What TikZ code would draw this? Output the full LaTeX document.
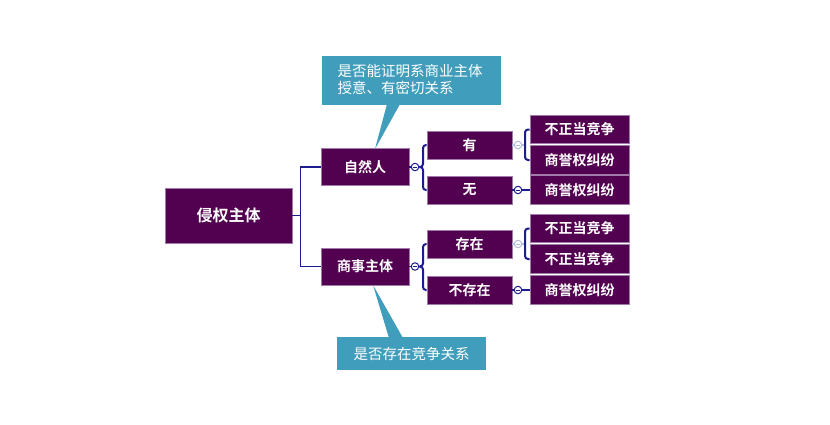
\documentclass[tikz,border=0pt]{standalone}
\usepackage{fontspec}
\newfontfamily\cjk{Noto Sans CJK SC}
\newfontfamily\cjkb{Noto Sans CJK SC Bold}
\usetikzlibrary{calc}
\definecolor{nodepurple}{HTML}{520050}
\definecolor{nodeborder}{HTML}{A07AA8}
\definecolor{linkblue}{HTML}{1C1C8C}
\definecolor{fadeblue}{HTML}{B4BCDC}
\definecolor{callteal}{HTML}{409DBB}
\tikzset{
  topicbox/.style={fill=nodepurple,draw=nodeborder,line width=0.6pt,inner sep=0pt,text=white,font=\cjkb\fontsize{14}{16}\selectfont},
  rootbox/.style={topicbox,minimum width=127pt,minimum height=55pt,font=\cjkb\fontsize{16}{19}\selectfont},
  midbox/.style={topicbox,minimum width=88pt,minimum height=37pt},
  subbox/.style={topicbox,minimum width=85pt,minimum height=28pt},
  leafbox/.style={topicbox,minimum width=99pt,minimum height=28.5pt},
  callbox/.style={fill=callteal,draw=none,inner sep=0pt,text=white,font=\cjk\fontsize{14.5}{17}\selectfont},
  link/.style={draw=linkblue,line width=1.4pt},
  blink/.style={draw=linkblue,line width=2pt,rounded corners=3pt},
  fblink/.style={draw=fadeblue,line width=1.2pt},
  knob/.style={circle,draw=linkblue,fill=white,line width=1pt,minimum size=7.5pt,inner sep=0pt,
    path picture={\draw[linkblue,line width=0.7pt] ($(path picture bounding box.center)+(-1.8pt,0)$) -- ($(path picture bounding box.center)+(1.8pt,0)$);}},
  fknob/.style={knob,draw=fadeblue,
    path picture={\draw[fadeblue,line width=0.7pt] ($(path picture bounding box.center)+(-1.8pt,0)$) -- ($(path picture bounding box.center)+(1.8pt,0)$);}},
}
\begin{document}
\begin{tikzpicture}[x=1pt,y=-1pt]
\useasboundingbox[fill=white] (0,0) rectangle (830,424);

% callouts (behind nodes)
\node[callbox,minimum width=179pt,minimum height=49pt] (call1) at (411.5,80.5) {};
\node[callbox,anchor=north west,align=left] (call1t) at (337.5,64) {是否能证明系商业主体\\授意、有密切关系};
\coordinate (tip1) at (375,149);
\fill[callteal] (387,104) -- (tip1) -- (400,104) -- cycle;

\node[callbox,minimum width=149pt,minimum height=33pt] (call2) at (411.5,353.5) {是否存在竞争关系};
\coordinate (tip2) at (373,285);
\fill[callteal] (389,338) -- (tip2) -- (403,338) -- cycle;

% nodes
\node[rootbox] (root) at (228.5,215.5) {侵权主体};
\node[midbox] (zr) at (365,167) {自然人};
\node[midbox] (ss) at (365,266.5) {商事主体};
\node[subbox] (you) at (469.5,145) {有};
\node[subbox] (wu) at (469.5,190) {无};
\node[subbox] (cz) at (469.5,244) {存在};
\node[subbox] (bcz) at (469.5,290) {不存在};
\node[leafbox] (l1) at (579.5,129.5) {不正当竞争};
\node[leafbox] (l2) at (579.5,160) {商誉权纠纷};
\node[leafbox] (l3) at (579.5,190) {商誉权纠纷};
\node[leafbox] (l4) at (579.5,228.5) {不正当竞争};
\node[leafbox] (l5) at (579.5,259) {不正当竞争};
\node[leafbox] (l6) at (579.5,290) {商誉权纠纷};

% root connectors
\draw[link] (root.east) -- ++(8,0) |- (zr.west);
\draw[link] (root.east) -- ++(8,0) |- (ss.west);

% knobs
\node[knob] (k1) at (415,167) {};
\node[knob] (k2) at (415,266.5) {};
\node[fknob] (k3) at (518,145) {};
\node[knob] (k4) at (518,190) {};
\node[fknob] (k5) at (518,244) {};
\node[knob] (k6) at (518,290) {};

\draw[link] (zr.east) -- (k1.west);
\draw[link] (ss.east) -- (k2.west);
\draw[fblink] (you.east) -- (k3.west);
\draw[fblink] (cz.east) -- (k5.west);
\draw[link] (wu.east) -- (k4.west);
\draw[link] (bcz.east) -- (k6.west);

% brackets
\draw[blink] (k1.east) -- (423,167) |- (you.west);
\draw[blink] (k1.east) -- (423,167) |- (wu.west);
\draw[blink] (k2.east) -- (423,266.5) |- (cz.west);
\draw[blink] (k2.east) -- (423,266.5) |- (bcz.west);
\draw[fblink] (k3.east) -- (525,145);
\draw[blink] (525,145) |- (l1.west);
\draw[blink] (525,145) |- (l2.west);
\draw[fblink] (k5.east) -- (525,244);
\draw[blink] (525,244) |- (l4.west);
\draw[blink] (525,244) |- (l5.west);
\draw[link,line width=2pt] (k4.east) -- (l3.west);
\draw[link,line width=2pt] (k6.east) -- (l6.west);
\end{tikzpicture}
\end{document}
